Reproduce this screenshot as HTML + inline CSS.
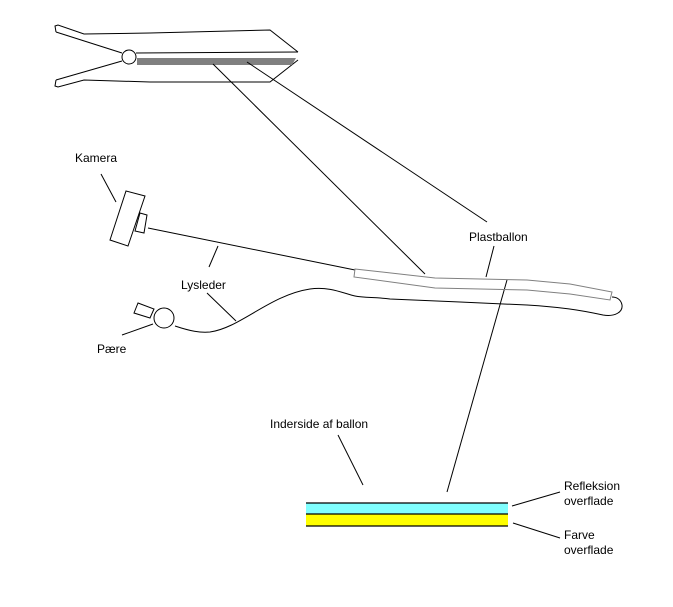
<!DOCTYPE html>
<html><head><meta charset="utf-8"><style>
html,body{margin:0;padding:0;background:#fff;}
svg{display:block;}
text{font-family:"Liberation Sans","DejaVu Sans",sans-serif;font-size:12px;fill:#000;}
</style></head><body>
<svg width="673" height="607" viewBox="0 0 673 607" xmlns="http://www.w3.org/2000/svg">
<g fill="none" stroke="#000" stroke-width="1">
<polyline points="56,32 55,26 58,25 84,34 150,33 270,30 298,52"/>
<polyline points="56,32 122,53"/>
<polyline points="56,80 55,86 58,87 84,80 150,82 270,82 298,60"/>
<polyline points="56,80 122,61"/>
<line x1="136" y1="53" x2="298" y2="52"/>
<circle cx="129" cy="57" r="7" fill="#fff"/>
</g>
<polygon points="137,58 296,58 292,65 137,65" fill="#808080"/>
<g fill="none" stroke="#000" stroke-width="1">
<line x1="213" y1="64" x2="425" y2="274"/>
<line x1="247" y1="62" x2="487" y2="222"/>
<line x1="494" y1="246" x2="486" y2="277"/>
<polygon points="126,191 145,196 128,246 110,240"/>
<polygon points="140,213 147,215 144,233 135,231"/>
<line x1="101" y1="174" x2="116" y2="202"/>
<line x1="148" y1="228" x2="355" y2="270"/>
<line x1="218" y1="246" x2="209" y2="267"/>
<polygon points="138,303 154,309 150,318 134,313" fill="#fff"/>
<circle cx="164" cy="318" r="10" fill="#fff"/>
<line x1="122" y1="335" x2="153" y2="324"/>
<line x1="207" y1="293" x2="236" y2="321"/>
<path d="M175,326 C190,331 200,333 210,332 C240,328 270,295 310,289 C330,286 345,294 355,296 C365,298 375,297 390,299 L460,302 L527,305 C560,307 580,310 603,315 C615,317 623,312 622,305 C621,299 616,297 612,297"/>
<line x1="507" y1="280" x2="447" y2="492"/>
<line x1="338" y1="435" x2="363" y2="485"/>
<line x1="512" y1="506" x2="560" y2="492"/>
<line x1="513" y1="523" x2="560" y2="538"/>
</g>
<g fill="none" stroke="#808080" stroke-width="1">
<path d="M355,269 L435,278 L527,280 L570,284 L612,292 L610,300 L570,294 L527,290 L435,288 L354,277 Z"/>
</g>
<rect x="306" y="503" width="202" height="11" fill="#80ffff"/>
<rect x="306" y="514" width="202" height="12" fill="#ffff00"/>
<g stroke="#000" stroke-width="1.2">
<line x1="306" y1="503" x2="508" y2="503"/>
<line x1="306" y1="514" x2="508" y2="514"/>
<line x1="306" y1="526" x2="508" y2="526"/>
</g>
<text x="75" y="162">Kamera</text>
<text x="469" y="241">Plastballon</text>
<text x="181" y="289">Lysleder</text>
<text x="97" y="353">Pære</text>
<text x="270" y="428">Inderside af ballon</text>
<text x="564" y="490">Refleksion</text>
<text x="564" y="505">overflade</text>
<text x="564" y="539">Farve</text>
<text x="564" y="554">overflade</text>
</svg>
</body></html>
